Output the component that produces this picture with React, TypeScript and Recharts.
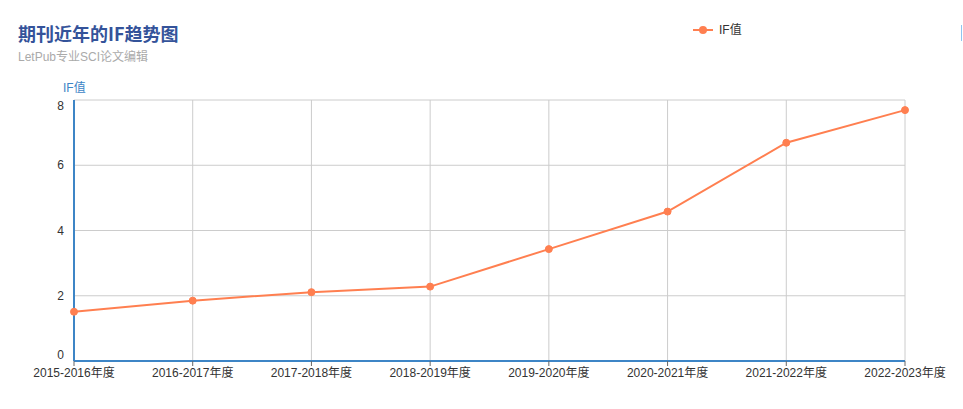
import React from "react";
import {
  LineChart,
  Line,
  XAxis,
  YAxis,
  CartesianGrid,
} from "recharts";

const years = [
  "2015-2016年度",
  "2016-2017年度",
  "2017-2018年度",
  "2018-2019年度",
  "2019-2020年度",
  "2020-2021年度",
  "2021-2022年度",
  "2022-2023年度",
];
const ifValues = [1.51, 1.85, 2.11, 2.28, 3.43, 4.58, 6.69, 7.69];
const yTicks = [0, 2, 4, 6, 8];

const FONT = '"Liberation Sans", Arial, "Noto Sans CJK SC", sans-serif';
const AXIS_BLUE = "#3d85c6";
const LINE_COLOR = "#ff7f50";

const chartData = years.map((y, i) => ({ year: y, value: ifValues[i] }));

// y labels sit a bit inside the plot at the ends
function YTick(props: any) {
  const { x, y, payload } = props;
  let dy = 4;
  if (payload.value === 8) dy = 10;
  if (payload.value === 0) dy = -2;
  return (
    <text x={x - 2} y={y + dy} textAnchor="end" fontSize={12} fill="#333" fontFamily={FONT}>
      {payload.value}
    </text>
  );
}

export default function App() {
  return (
    <div style={{ position: "relative", width: 963, height: 409, background: "#fff" }}>
      <style>{`body{margin:0}`}</style>
      <div
        style={{
          position: "absolute",
          left: 18,
          top: 21,
          fontFamily: '"Noto Sans CJK SC", sans-serif',
          fontWeight: "bold",
          fontSize: 18,
          color: "#34539a",
          lineHeight: "24px",
        }}
      >
        期刊近年的IF趋势图
      </div>
      <div
        style={{
          position: "absolute",
          left: 18,
          top: 49,
          fontFamily: FONT,
          fontSize: 12,
          color: "#aaa",
          lineHeight: "16px",
        }}
      >
        LetPub专业SCI论文编辑
      </div>
      <div
        style={{
          position: "absolute",
          left: 63,
          top: 80,
          fontFamily: FONT,
          fontSize: 12,
          color: AXIS_BLUE,
          lineHeight: "16px",
        }}
      >
        IF值
      </div>
      {/* legend */}
      <div
        style={{
          position: "absolute",
          left: 693,
          top: 22,
          display: "flex",
          alignItems: "center",
          fontFamily: FONT,
          fontSize: 12,
          color: "#333",
          lineHeight: "16px",
        }}
      >
        <svg width={20} height={10} style={{ marginRight: 6 }}>
          <line x1={0} y1={5} x2={20} y2={5} stroke={LINE_COLOR} strokeWidth={2} />
          <circle cx={10} cy={5} r={4} fill={LINE_COLOR} />
        </svg>
        <span>IF值</span>
      </div>
      <div style={{ position: "absolute", left: 961, top: 25, width: 1, height: 16, background: "#8fc4f0" }} />
      <div style={{ position: "absolute", left: 0, top: 0 }}>
        <LineChart
          width={963}
          height={409}
          data={chartData}
          margin={{ top: 100, right: 58, left: 54, bottom: 18 }}
        >
          <CartesianGrid stroke="#ccc" strokeDasharray="" />
          <XAxis
            dataKey="year"
            stroke={AXIS_BLUE}
            strokeWidth={2}
            tick={{ fontSize: 12, fill: "#333", fontFamily: FONT }}
            tickLine={{ stroke: "#666", strokeWidth: 1 }}
            tickSize={5}
            interval={0}
            height={30}
          />
          <YAxis
            domain={[0, 8]}
            ticks={yTicks}
            width={20}
            stroke={AXIS_BLUE}
            strokeWidth={2}
            tickLine={false}
            tick={<YTick />}
          />
          <Line
            type="linear"
            dataKey="value"
            name="IF值"
            stroke={LINE_COLOR}
            strokeWidth={2}
            dot={{ r: 3.5, fill: LINE_COLOR, stroke: LINE_COLOR, strokeWidth: 1 }}
            isAnimationActive={false}
          />
        </LineChart>
      </div>
    </div>
  );
}
